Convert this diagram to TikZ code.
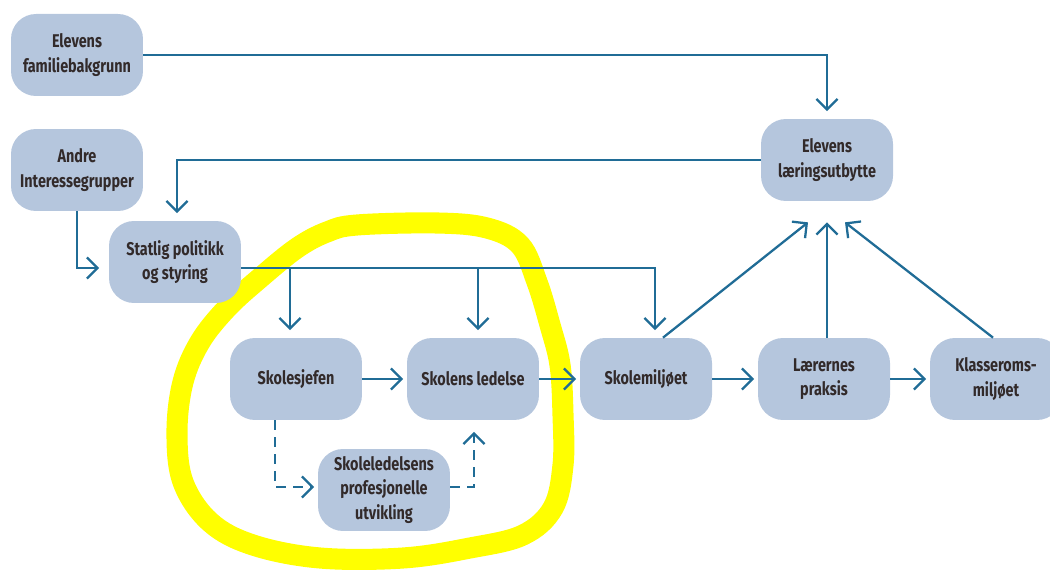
\documentclass[tikz,border=0pt]{standalone}
\usepackage{fontspec}
\setmainfont{Fira Sans}[FakeStretch=0.78]
\usetikzlibrary{arrows.meta,calc}

\definecolor{boxfill}{RGB}{181,198,221}
\definecolor{linkblue}{RGB}{32,108,150}
\definecolor{boxtext}{RGB}{50,42,42}
\definecolor{marker}{RGB}{255,255,0}

\tikzset{
  factor/.style={fill=boxfill, rounded corners=0.5cm, minimum width=2.64cm,
    minimum height=1.64cm, align=center, text=boxtext,
    font=\bfseries\fontsize{10.5}{14}\selectfont},
  link/.style={draw=linkblue, line width=1.3pt,
    -{Straight Barb[length=6pt,width=12pt,line width=1.3pt]}, shorten >=2pt},
  dashlink/.style={link, dash pattern=on 0.2cm off 0.14cm},
}

\begin{document}
\begin{tikzpicture}[x=0.02cm,y=-0.02cm]
\useasboundingbox (0,0) rectangle (1050,573);

% highlighter loop
\draw[marker, line width=12pt, line cap=round] plot[smooth cycle, tension=0.6] coordinates {
  (357,225) (437,223) (487,228) (520,245) (537,282) (550,325) (560,365)
  (563,415) (563,465) (553,508) (523,535) (470,548) (403,558) (320,558)
  (253,545) (210,522) (183,482) (177,432) (183,382) (200,342) (227,308)
  (260,278) (297,248) (327,232)};

% factors
\node[factor] (fam)   at (77,55)   {Elevens\\familiebakgrunn};
\node[factor] (andre) at (77,170)  {Andre\\Interessegrupper};
\node[factor] (stat)  at (175,262) {Statlig politikk\\og styring};
\node[factor] (utb)   at (827,160) {Elevens\\læringsutbytte};
\node[factor] (sjef)  at (296,379) {Skolesjefen};
\node[factor] (led)   at (473,379) {Skolens ledelse};
\node[factor] (milj)  at (646,379) {Skolemiljøet};
\node[factor] (prak)  at (824,379) {Lærernes\\praksis};
\node[factor] (klas)  at (996,379) {Klasseroms-\\miljøet};
\node[factor] (utv)   at (384,490) {Skoleledelsens\\profesjonelle\\utvikling};

% helper points
\coordinate (bus) at ($(stat.east)+(0,6)$);
\coordinate (in1) at ($(utb.south)+(-19,21)$);
\coordinate (in2) at ($(utb.south)+(0,21)$);
\coordinate (in3) at ($(utb.south)+(18,21)$);

% links
\draw[link] (fam.east) -| ($(utb.north)+(0,-4)$);
\draw[link] (utb.west) -| ($(stat.north)+(2,-4)$);
\draw[link] (andre.south) |- ($(stat.west)+(-6,6)$);
\draw[link] (bus) -| ($(milj.north)+(9,-4)$);
\draw[link] ($(sjef.north |- bus)+(-6,0)$) -- ($(sjef.north)+(-6,-4)$);
\draw[link] ($(led.north |- bus)+(5,0)$) -- ($(led.north)+(5,-4)$);
\draw[link] (sjef) -- (led);
\draw[link] (led) -- (milj);
\draw[link] (milj) -- (prak);
\draw[link] (prak) -- (klas);
\draw[link, shorten >=0pt] ($(milj.north)+(17,0)$) -- (in1);
\draw[link, shorten >=0pt] ($(prak.north)+(3,0)$) -- (in2);
\draw[link, shorten >=0pt] ($(klas.north)+(-3,0)$) -- (in3);
\draw[dashlink] ($(sjef.south)+(-21,0)$) |- ($(utv.west)+(0,-3)$);
\draw[dashlink] ($(utv.east)+(0,-3)$) -| ($(led.south)+(1,8)$);
\end{tikzpicture}
\end{document}
